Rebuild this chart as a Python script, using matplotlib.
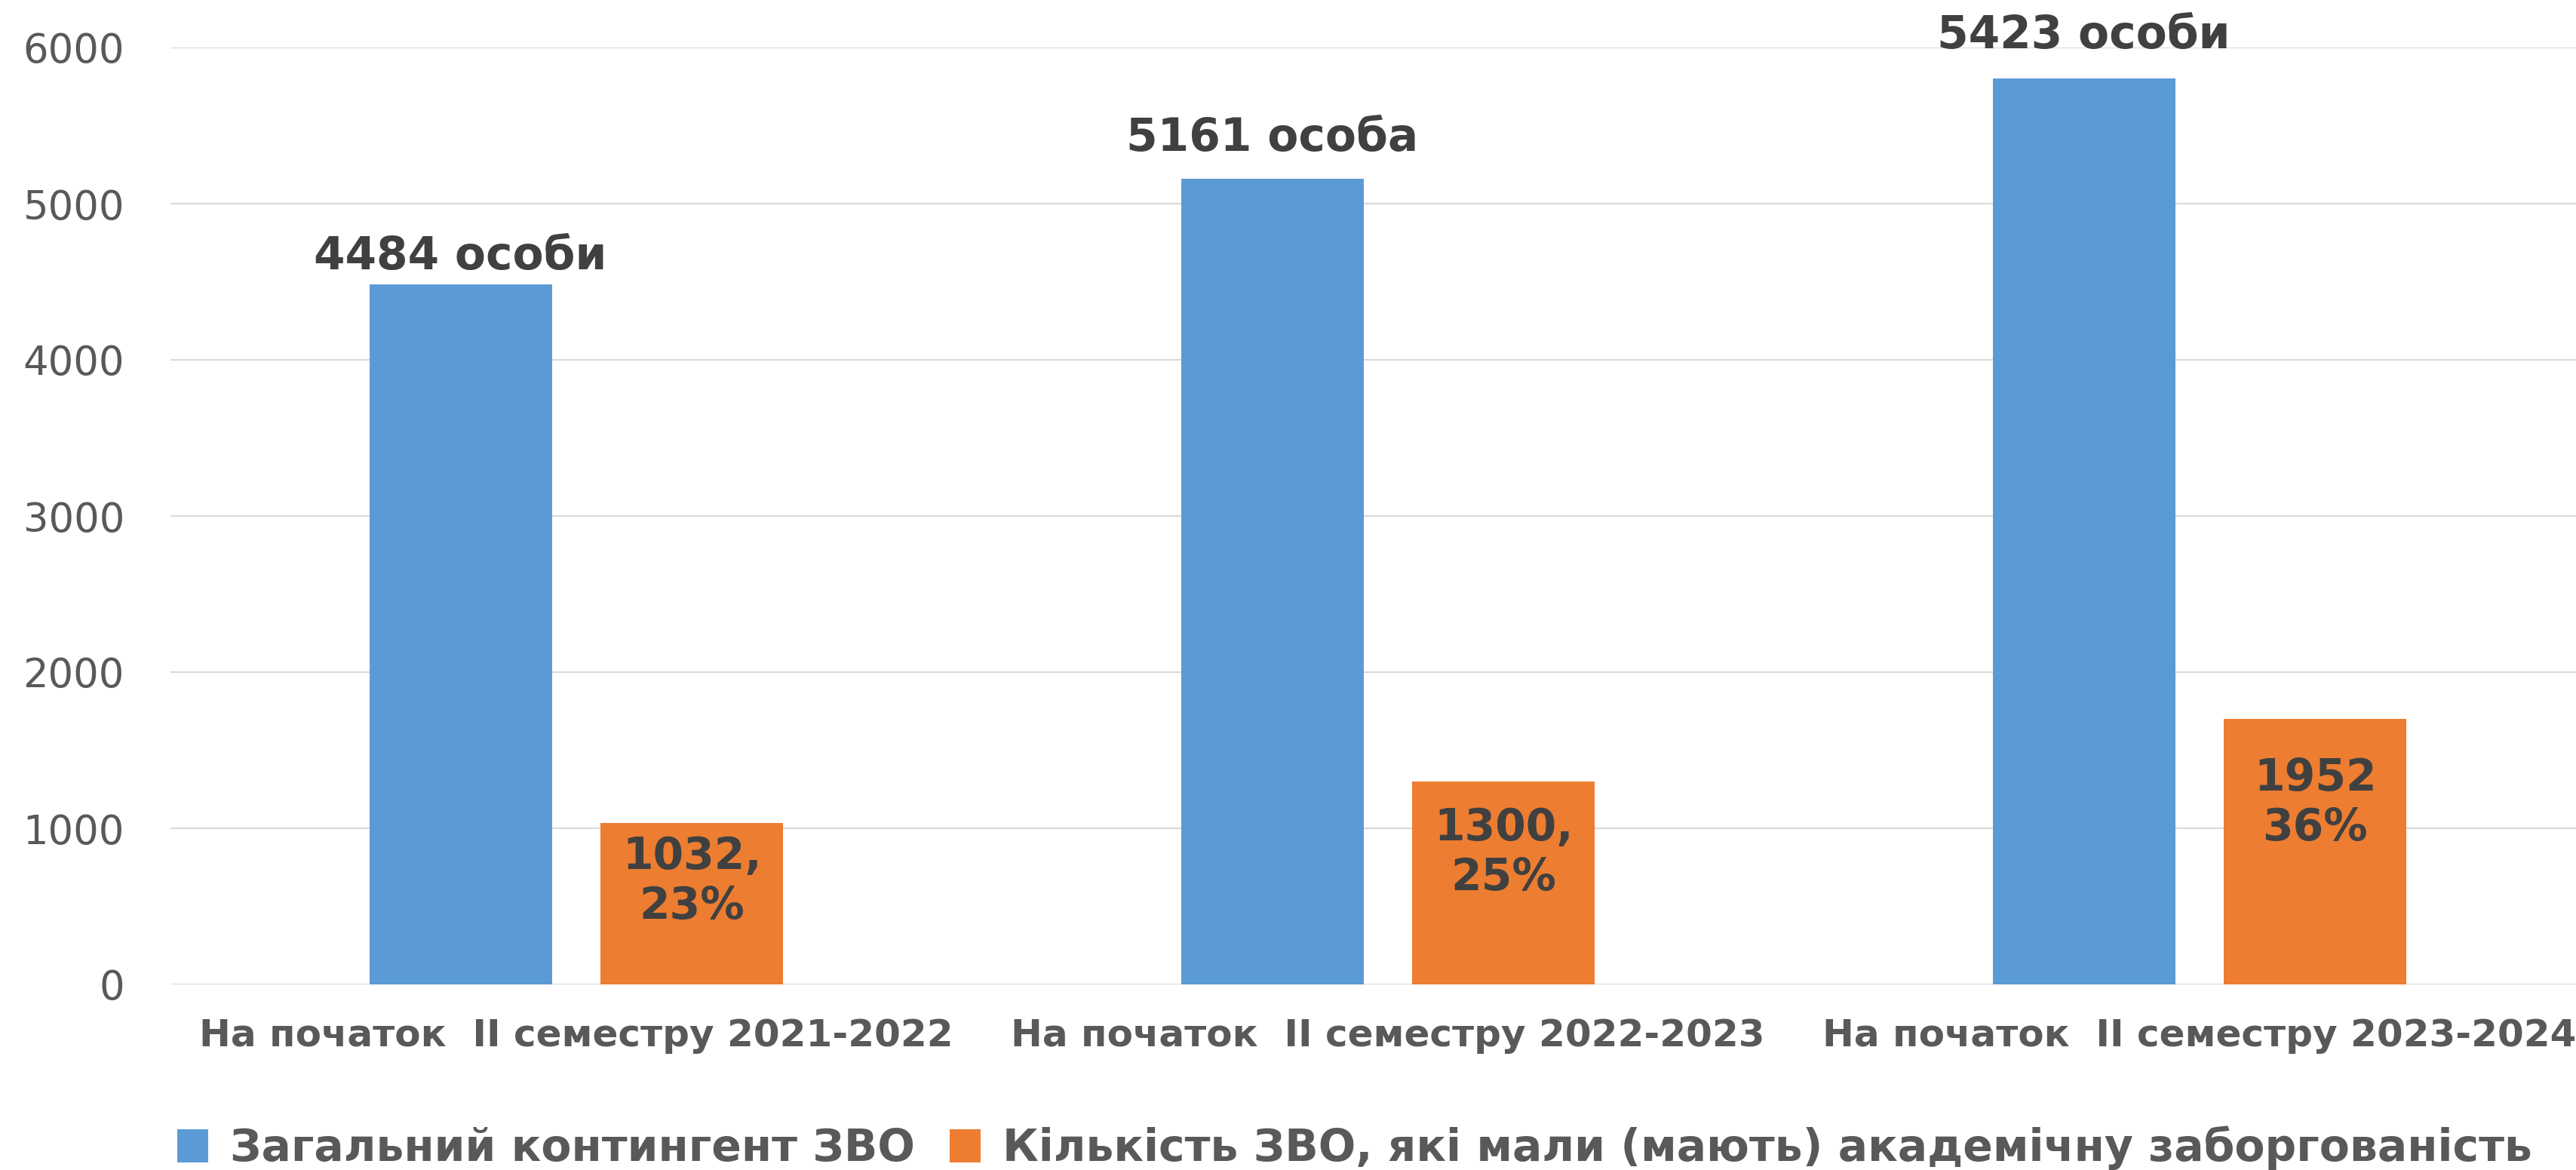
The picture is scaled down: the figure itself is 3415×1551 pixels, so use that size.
import numpy as np
import matplotlib.pyplot as plt

# values (bar heights) and the label texts
categories = ["На початок  II семестру 2021-2022",
              "На початок  II семестру 2022-2023",
              "На початок  II семестру 2023-2024"]
total = [4484, 5161, 5800]
debt = [1032, 1300, 1700]
total_labels = ["4484 особи", "5161 особа", "5423 особи"]
debt_labels = ["1032,\n23%", "1300,\n25%", "1952\n36%"]
series_names = ["Загальний контингент ЗВО",
                "Кількість ЗВО, які мали (мають) академічну заборгованість"]

BLUE = "#5B9BD5"
ORANGE = "#ED7D31"
GRID = "#D9D9D9"
TXT = "#595959"
DARK = "#404040"

plt.rcParams['font.family'] = ['DejaVu Sans']

W, H = 3415, 1551
fig = plt.figure(figsize=(W / 100, H / 100), dpi=100)
# axes spans past the right edge: the source image is cropped there
ax = fig.add_axes([226 / W, 1 - 1305 / H, (3454 - 226) / W, (1305 - 63) / H])

x = np.arange(len(categories))
bw = 0.225
off = 0.1425
b1 = ax.bar(x - off, total, bw, color=BLUE, zorder=3)
b2 = ax.bar(x + off, debt, bw, color=ORANGE, zorder=3)

ax.set_xlim(-0.5, len(categories) - 0.5)
ax.set_ylim(0, 6000)
ax.set_yticks(np.arange(0, 6001, 1000))
ax.yaxis.grid(True, color=GRID, linewidth=1.5, zorder=0)
ax.set_axisbelow(True)
for s in ax.spines.values():
  s.set_visible(False)
ax.tick_params(axis='y', length=0, pad=44, labelsize=38, labelcolor=TXT)
ax.tick_params(axis='x', length=0, pad=32)
ax.set_xticks(x)
ax.set_xticklabels(categories, fontsize=36, fontweight='bold', color=TXT)

# labels above blue bars (gap in px differs in the source)
gaps = [20, 37, 40]
for rect, lab, g in zip(b1, total_labels, gaps):
  ax.annotate(lab, (rect.get_x() + rect.get_width() / 2, rect.get_height()),
              xytext=(0, g * 0.72), textcoords='offset points',
              ha='center', va='baseline', fontsize=43, fontweight='bold', color=DARK)

# labels inside orange bars
drops = [16, 33, 50]
for rect, lab, d in zip(b2, debt_labels, drops):
  ax.annotate(lab, (rect.get_x() + rect.get_width() / 2, rect.get_height()),
              xytext=(0, -d * 0.72), textcoords='offset points',
              ha='center', va='top', fontsize=42, fontweight='bold', color=DARK,
              linespacing=1.2)

leg = fig.legend([b1, b2], series_names, loc='center', ncol=2,
                 bbox_to_anchor=(1796 / W, 1 - 1522 / H), frameon=False,
                 handlelength=0.7, handleheight=0.8, handletextpad=0.5,
                 columnspacing=0.8, prop={'size': 42, 'weight': 'bold'})
for t in leg.get_texts():
  t.set_color(TXT)

fig.savefig('out.png', dpi=100)
